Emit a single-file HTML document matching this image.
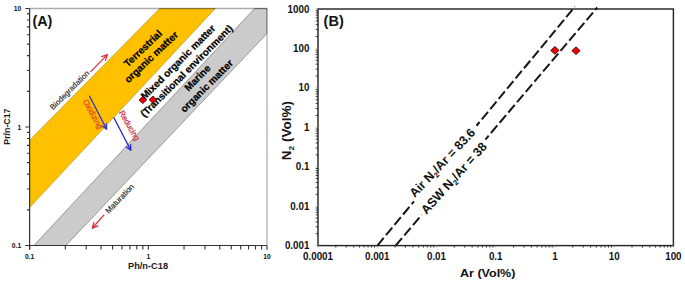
<!DOCTYPE html>
<html><head><meta charset="utf-8"><style>
html,body{margin:0;padding:0;background:#fff;width:685px;height:281px;overflow:hidden}
svg{display:block}
</style></head><body>
<svg width="685" height="281" viewBox="0 0 685 281">
<rect width="685" height="281" fill="#fff"/>
<defs><clipPath id="ca"><rect x="29.60" y="7.90" width="238.00" height="237.60"/></clipPath></defs>
<g clip-path="url(#ca)">
<polygon points="29.6,140.3 159.6,8.5 215.3,8.5 29.6,207.6" fill="#ffc000" stroke="#9a7a10" stroke-width="0.5"/>
<polygon points="33.9,245.5 254.5,8.5 267,8.5 267,33.5 65.9,245.5" fill="#cbcbcb" stroke="#7a7a7a" stroke-width="0.7"/>
</g>
<line x1="29.60" y1="8.50" x2="267.00" y2="8.50" stroke="#000" stroke-opacity="0.33" stroke-width="1.3"/>
<line x1="267.00" y1="8.50" x2="267.00" y2="245.50" stroke="#000" stroke-opacity="0.2" stroke-width="2"/>
<line x1="29.60" y1="8.50" x2="29.60" y2="249.50" stroke="#333" stroke-width="1.2"/>
<line x1="25.60" y1="245.50" x2="267.00" y2="245.50" stroke="#333" stroke-width="1.2"/>
<path d="M25.30 245.50H29.60M29.60 245.50V249.70M27.00 209.83H29.60M65.33 245.50V249.50M27.00 188.96H29.60M86.23 245.50V249.50M27.00 174.16H29.60M101.06 245.50V249.50M27.00 162.67H29.60M112.57 245.50V249.50M27.00 153.29H29.60M121.97 245.50V249.50M27.00 145.36H29.60M129.91 245.50V249.50M27.00 138.48H29.60M136.80 245.50V249.50M27.00 132.42H29.60M142.87 245.50V249.50M25.30 127.00H29.60M148.30 245.50V249.70M27.00 91.33H29.60M184.03 245.50V249.50M27.00 70.46H29.60M204.93 245.50V249.50M27.00 55.66H29.60M219.76 245.50V249.50M27.00 44.17H29.60M231.27 245.50V249.50M27.00 34.79H29.60M240.67 245.50V249.50M27.00 26.86H29.60M248.61 245.50V249.50M27.00 19.98H29.60M255.50 245.50V249.50M27.00 13.92H29.60M261.57 245.50V249.50M25.30 8.50H29.60M267.00 245.50V249.70" stroke="#333" stroke-width="1.1" fill="none"/>
<text x="0.00" y="0.00" font-family="Liberation Sans, sans-serif" font-size="6.80" font-weight="bold" text-anchor="end" fill="#111" transform="translate(21.20 11.20) scale(1 1.120)">10</text>
<text x="0.00" y="0.00" font-family="Liberation Sans, sans-serif" font-size="6.80" font-weight="bold" text-anchor="end" fill="#111" transform="translate(21.20 130.00) scale(1 1.120)">1</text>
<text x="0.00" y="0.00" font-family="Liberation Sans, sans-serif" font-size="6.80" font-weight="bold" text-anchor="end" fill="#111" transform="translate(21.20 248.20) scale(1 1.120)">0.1</text>
<text x="0.00" y="0.00" font-family="Liberation Sans, sans-serif" font-size="6.80" font-weight="bold" text-anchor="middle" fill="#111" transform="translate(29.60 259.10) scale(1 1.120)">0.1</text>
<text x="0.00" y="0.00" font-family="Liberation Sans, sans-serif" font-size="6.80" font-weight="bold" text-anchor="middle" fill="#111" transform="translate(148.30 259.10) scale(1 1.120)">1</text>
<text x="0.00" y="0.00" font-family="Liberation Sans, sans-serif" font-size="6.80" font-weight="bold" text-anchor="middle" fill="#111" transform="translate(267.00 259.10) scale(1 1.120)">10</text>
<text x="0.00" y="0.00" font-family="Liberation Sans, sans-serif" font-size="8.70" font-weight="bold" text-anchor="middle" fill="#1a1a1a" transform="translate(148.0 269.0) scale(1.065 1)">Ph/n-C18</text>
<text x="0.00" y="0.00" font-family="Liberation Sans, sans-serif" font-size="8.40" font-weight="bold" text-anchor="middle" fill="#1a1a1a" transform="translate(9.6 126.6) rotate(-90) scale(1.05 1)">Pr/n-C17</text>
<text x="32.40" y="26.30" font-family="Liberation Sans, sans-serif" font-size="14.30" font-weight="bold" text-anchor="start" fill="#111" >(A)</text>
<text x="145.20" y="51.00" font-family="Liberation Sans, sans-serif" font-size="10.00" font-weight="bold" text-anchor="middle" fill="#000" stroke="#000" stroke-width="0.25" transform="rotate(-43.50 145.20 51.00)">Terrestrial</text>
<text x="153.60" y="59.60" font-family="Liberation Sans, sans-serif" font-size="10.00" font-weight="bold" text-anchor="middle" fill="#000" stroke="#000" stroke-width="0.25" transform="rotate(-43.50 153.60 59.60)">organic matter</text>
<text x="180.50" y="64.50" font-family="Liberation Sans, sans-serif" font-size="10.00" font-weight="bold" text-anchor="middle" fill="#000" stroke="#000" stroke-width="0.25" transform="rotate(-45.00 180.50 64.50)">Mixed organic matter</text>
<text x="189.00" y="73.40" font-family="Liberation Sans, sans-serif" font-size="10.00" font-weight="bold" text-anchor="middle" fill="#000" stroke="#000" stroke-width="0.25" transform="rotate(-45.00 189.00 73.40)">(Transitional environment)</text>
<text x="199.90" y="80.30" font-family="Liberation Sans, sans-serif" font-size="10.00" font-weight="bold" text-anchor="middle" fill="#000" stroke="#000" stroke-width="0.25" transform="rotate(-45.00 199.90 80.30)">Marine</text>
<text x="209.10" y="88.40" font-family="Liberation Sans, sans-serif" font-size="10.00" font-weight="bold" text-anchor="middle" fill="#000" stroke="#000" stroke-width="0.25" transform="rotate(-45.00 209.10 88.40)">organic matter</text>
<text x="71.40" y="92.00" font-family="Liberation Sans, sans-serif" font-size="7.70" font-weight="normal" text-anchor="middle" fill="#222" stroke="#222" stroke-width="0.15" transform="rotate(-45.00 71.40 92.00)">Biodegradation</text>
<text x="121.60" y="200.50" font-family="Liberation Sans, sans-serif" font-size="7.90" font-weight="normal" text-anchor="middle" fill="#222" stroke="#222" stroke-width="0.15" transform="rotate(-46.50 121.60 200.50)">Maturation</text>
<text x="90.60" y="115.40" font-family="Liberation Sans, sans-serif" font-size="7.90" font-weight="normal" text-anchor="middle" fill="#e84e18" stroke="#e84e18" stroke-width="0.30" transform="rotate(61.00 90.60 115.40)">Oxidizing</text>
<text x="127.00" y="126.90" font-family="Liberation Sans, sans-serif" font-size="7.90" font-weight="normal" text-anchor="middle" fill="#d0434e" stroke="#d0434e" stroke-width="0.30" transform="rotate(60.00 127.00 126.90)">Reducing</text>
<path d="M90.70 71.60L107.40 54.60M105.40 60.35L107.40 54.60L101.69 56.70" stroke="#d8353f" stroke-width="1.30" fill="none" stroke-linecap="round" stroke-linejoin="round"/>
<path d="M103.80 215.10L92.30 228.30M93.95 222.45L92.30 228.30L97.87 225.86" stroke="#d8353f" stroke-width="1.30" fill="none" stroke-linecap="round" stroke-linejoin="round"/>
<path d="M89.60 96.20L106.60 129.30M102.18 125.95L106.60 129.30L106.45 123.76" stroke="#3a38a8" stroke-width="1.40" fill="none" stroke-linecap="round" stroke-linejoin="round"/>
<path d="M113.90 117.80L130.80 150.30M126.36 146.97L130.80 150.30L130.62 144.76" stroke="#2d2dd0" stroke-width="1.40" fill="none" stroke-linecap="round" stroke-linejoin="round"/>
<path d="M142.80 96.40l3.8 3.6l-3.8 3.6l-3.8 -3.6z" fill="#f00000" stroke="#300" stroke-width="0.8"/>
<path d="M152.90 96.10l3.8 3.6l-3.8 3.6l-3.8 -3.6z" fill="#f00000" stroke="#300" stroke-width="0.8"/>
<rect x="318.00" y="9.00" width="355.40" height="236.60" fill="none" stroke="#262626" stroke-width="1.45"/>
<path d="M315.70 233.73H318.00M315.70 226.79H318.00M315.70 221.86H318.00M315.70 218.04H318.00M315.70 214.91H318.00M315.70 212.27H318.00M315.70 209.99H318.00M315.70 207.97H318.00M315.70 194.30H318.00M315.70 187.35H318.00M315.70 182.43H318.00M315.70 178.60H318.00M315.70 175.48H318.00M315.70 172.84H318.00M315.70 170.55H318.00M315.70 168.54H318.00M315.70 154.86H318.00M315.70 147.92H318.00M315.70 142.99H318.00M315.70 139.17H318.00M315.70 136.05H318.00M315.70 133.41H318.00M315.70 131.12H318.00M315.70 129.10H318.00M315.70 115.43H318.00M315.70 108.49H318.00M315.70 103.56H318.00M315.70 99.74H318.00M315.70 96.61H318.00M315.70 93.97H318.00M315.70 91.69H318.00M315.70 89.67H318.00M315.70 76.00H318.00M315.70 69.05H318.00M315.70 64.13H318.00M315.70 60.30H318.00M315.70 57.18H318.00M315.70 54.54H318.00M315.70 52.25H318.00M315.70 50.24H318.00M315.70 36.56H318.00M315.70 29.62H318.00M315.70 24.69H318.00M315.70 20.87H318.00M315.70 17.75H318.00M315.70 15.11H318.00M315.70 12.82H318.00M315.70 10.80H318.00M335.83 245.60V247.60M346.26 245.60V247.60M353.66 245.60V247.60M359.40 245.60V247.60M364.09 245.60V247.60M368.06 245.60V247.60M371.49 245.60V247.60M374.52 245.60V247.60M395.06 245.60V247.60M405.49 245.60V247.60M412.90 245.60V247.60M418.64 245.60V247.60M423.33 245.60V247.60M427.29 245.60V247.60M430.73 245.60V247.60M433.76 245.60V247.60M454.30 245.60V247.60M464.73 245.60V247.60M472.13 245.60V247.60M477.87 245.60V247.60M482.56 245.60V247.60M486.52 245.60V247.60M489.96 245.60V247.60M492.99 245.60V247.60M513.53 245.60V247.60M523.96 245.60V247.60M531.36 245.60V247.60M537.10 245.60V247.60M541.79 245.60V247.60M545.76 245.60V247.60M549.19 245.60V247.60M552.22 245.60V247.60M572.76 245.60V247.60M583.19 245.60V247.60M590.60 245.60V247.60M596.34 245.60V247.60M601.03 245.60V247.60M604.99 245.60V247.60M608.43 245.60V247.60M611.46 245.60V247.60M632.00 245.60V247.60M642.43 245.60V247.60M649.83 245.60V247.60M655.57 245.60V247.60M660.26 245.60V247.60M664.22 245.60V247.60M667.66 245.60V247.60M670.69 245.60V247.60" stroke="#222" stroke-width="0.9" fill="none"/>
<path d="M315.70 245.60H318.00M315.70 206.17H318.00M315.70 166.73H318.00M315.70 127.30H318.00M315.70 87.87H318.00M315.70 48.43H318.00M315.70 9.00H318.00M318.00 245.60V247.60M377.23 245.60V247.60M436.47 245.60V247.60M495.70 245.60V247.60M554.93 245.60V247.60M614.17 245.60V247.60M673.40 245.60V247.60" stroke="#999" stroke-width="0.8" fill="none"/>
<text x="0.00" y="0.00" font-family="Liberation Sans, sans-serif" font-size="9.80" font-weight="bold" text-anchor="end" fill="#111" transform="translate(309.40 249.10) scale(1 1.120)">0.001</text>
<text x="0.00" y="0.00" font-family="Liberation Sans, sans-serif" font-size="9.80" font-weight="bold" text-anchor="end" fill="#111" transform="translate(309.40 209.67) scale(1 1.120)">0.01</text>
<text x="0.00" y="0.00" font-family="Liberation Sans, sans-serif" font-size="9.80" font-weight="bold" text-anchor="end" fill="#111" transform="translate(309.40 170.23) scale(1 1.120)">0.1</text>
<text x="0.00" y="0.00" font-family="Liberation Sans, sans-serif" font-size="9.80" font-weight="bold" text-anchor="end" fill="#111" transform="translate(309.40 130.80) scale(1 1.120)">1</text>
<text x="0.00" y="0.00" font-family="Liberation Sans, sans-serif" font-size="9.80" font-weight="bold" text-anchor="end" fill="#111" transform="translate(309.40 91.37) scale(1 1.120)">10</text>
<text x="0.00" y="0.00" font-family="Liberation Sans, sans-serif" font-size="9.80" font-weight="bold" text-anchor="end" fill="#111" transform="translate(309.40 51.93) scale(1 1.120)">100</text>
<text x="0.00" y="0.00" font-family="Liberation Sans, sans-serif" font-size="9.80" font-weight="bold" text-anchor="end" fill="#111" transform="translate(309.40 12.50) scale(1 1.120)">1000</text>
<text x="0.00" y="0.00" font-family="Liberation Sans, sans-serif" font-size="9.80" font-weight="bold" text-anchor="middle" fill="#111" transform="translate(318.00 259.80) scale(1 1.120)">0.0001</text>
<text x="0.00" y="0.00" font-family="Liberation Sans, sans-serif" font-size="9.80" font-weight="bold" text-anchor="middle" fill="#111" transform="translate(377.23 259.80) scale(1 1.120)">0.001</text>
<text x="0.00" y="0.00" font-family="Liberation Sans, sans-serif" font-size="9.80" font-weight="bold" text-anchor="middle" fill="#111" transform="translate(436.47 259.80) scale(1 1.120)">0.01</text>
<text x="0.00" y="0.00" font-family="Liberation Sans, sans-serif" font-size="9.80" font-weight="bold" text-anchor="middle" fill="#111" transform="translate(495.70 259.80) scale(1 1.120)">0.1</text>
<text x="0.00" y="0.00" font-family="Liberation Sans, sans-serif" font-size="9.80" font-weight="bold" text-anchor="middle" fill="#111" transform="translate(554.93 259.80) scale(1 1.120)">1</text>
<text x="0.00" y="0.00" font-family="Liberation Sans, sans-serif" font-size="9.80" font-weight="bold" text-anchor="middle" fill="#111" transform="translate(614.17 259.80) scale(1 1.120)">10</text>
<text x="0.00" y="0.00" font-family="Liberation Sans, sans-serif" font-size="9.80" font-weight="bold" text-anchor="middle" fill="#111" transform="translate(673.40 259.80) scale(1 1.120)">100</text>
<text x="0.00" y="0.00" font-family="Liberation Sans, sans-serif" font-size="11.00" font-weight="bold" text-anchor="middle" fill="#111" transform="translate(487.7 276.9) scale(1.14 1)">Ar (Vol%)</text>
<text x="0" y="0" font-family="Liberation Sans, sans-serif" font-size="12.4" font-weight="bold" text-anchor="middle" fill="#151515" transform="translate(291.4 130.6) rotate(-90) scale(1.09 1)">N<tspan font-size="7.6" dy="2.4">2</tspan><tspan dy="-2.4"> (Vol%)</tspan></text>
<text x="323.60" y="26.00" font-family="Liberation Sans, sans-serif" font-size="14.50" font-weight="bold" text-anchor="start" fill="#111" >(B)</text>
<path d="M554.90 46.50l4.2 3.9l-4.2 3.9l-4.2 -3.9z" fill="#f00008" stroke="#150000" stroke-width="0.8"/>
<path d="M576.00 46.80l4.2 3.9l-4.2 3.9l-4.2 -3.9z" fill="#f00008" stroke="#400000" stroke-width="0.8"/>
<g stroke="#161616" stroke-width="2" stroke-dasharray="9.9,3.55" fill="none">
<path d="M377.40 245.60L414.04 201.28" stroke-dashoffset="0.00" stroke-dasharray="9.9,3.55"/>
<path d="M476.48 125.75L574.92 6.68" stroke-dashoffset="4.90" stroke-dasharray="9.75,3.5"/>
<path d="M395.60 245.60L421.78 214.70" stroke-dashoffset="0.00" stroke-dasharray="9.9,3.55"/>
<path d="M485.44 139.53L597.25 7.52" stroke-dashoffset="4.90" stroke-dasharray="9.9,3.55"/>
</g>
<text x="414.8" y="198.0" font-family="Liberation Sans, sans-serif" font-size="12.4" font-weight="bold" fill="#111" transform="rotate(-46.6 414.8 198.0)">Air N<tspan font-size="7.5" dy="2.5">2</tspan><tspan dy="-2.5">/Ar = 83.6</tspan></text>
<text x="426.5" y="215.0" font-family="Liberation Sans, sans-serif" font-size="12.5" font-weight="bold" fill="#111" transform="rotate(-48 426.5 215.0)">ASW N<tspan font-size="7.5" dy="2.5">2</tspan><tspan dy="-2.5">/Ar = 38</tspan></text>
</svg>
</body></html>
